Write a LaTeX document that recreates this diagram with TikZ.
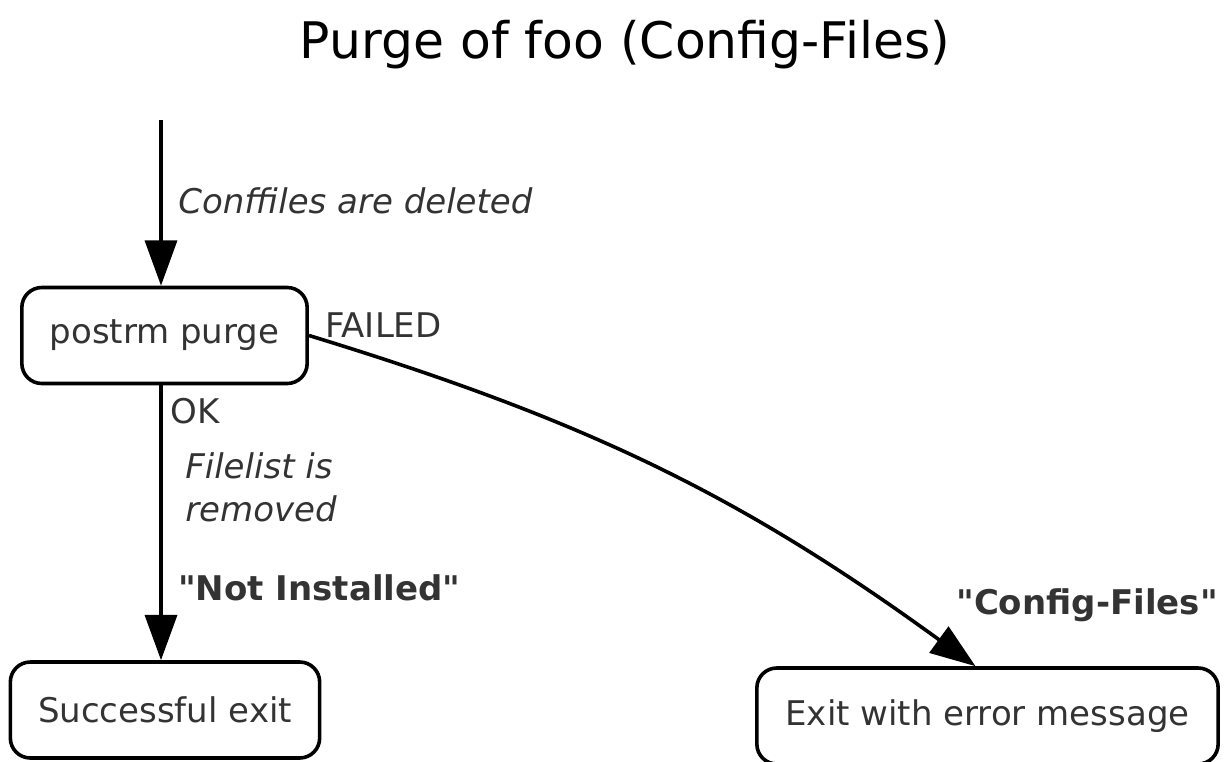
\documentclass[tikz,border=0pt]{standalone}
\usepackage{fontspec}
\setmainfont{DejaVu Sans}
\usetikzlibrary{arrows.meta}

\begin{document}
\begin{tikzpicture}[x=0.75pt,y=0.75pt,
    state/.style={draw,line width=2.7pt,rounded corners=15pt,minimum height=72pt,
      inner sep=0pt,font=\fontsize{25.5}{32}\selectfont,text=black!80},
    lbl/.style={inner sep=0pt,font=\fontsize{25.5}{32}\selectfont,text=black!80},
    flow/.style={line width=2.7pt,-{Triangle[length=34pt,width=24pt]}}]
  % the page
  \useasboundingbox (0,0) rectangle (1228,-761);
  \node[anchor=base,font=\fontsize{37.8}{44}\selectfont] (title) at (625,-58) {Purge of foo (Config-Files)};
  %% the states
  \coordinate (start) at (161,-120);
  \node[state,minimum width=214pt] (purge) at (164.5,-335.5) {postrm purge};
  \node[state,minimum width=232pt] (success) at (165,-710) {Successful exit};
  \node[state,minimum width=346pt] (error) at (987.5,-716) {Exit with error message};
  %% the transitions
  \draw[flow] (start) -- (start |- purge.north);
  \draw[flow] (start |- purge.south) -- (start |- success.north);
  \draw[flow] (purge.east) to[out=-17,in=144] ([xshift=-9pt]error.north);
  %% the labels
  \node[lbl,anchor=base west,font=\fontsize{25.5}{32}\selectfont\itshape] (deleted) at (178,-213) {Conffiles are deleted};
  \node[lbl,anchor=base west] (failed) at (325,-337) {FAILED};
  \node[lbl,anchor=base west] (ok) at (170,-423) {OK};
  \node[lbl,anchor=west,align=left,font=\fontsize{25.5}{32}\selectfont\itshape] (removed) at (185,-487.5) {Filelist is\\removed};
  \node[lbl,anchor=base west,font=\fontsize{25.5}{32}\selectfont\bfseries] (notinst) at (178,-600) {\textquotedbl Not Installed\textquotedbl};
  \node[lbl,anchor=base east,font=\fontsize{25.5}{32}\selectfont\bfseries] (cfgfiles) at (1218,-614) {\textquotedbl Config-Files\textquotedbl};
\end{tikzpicture}
\end{document}
